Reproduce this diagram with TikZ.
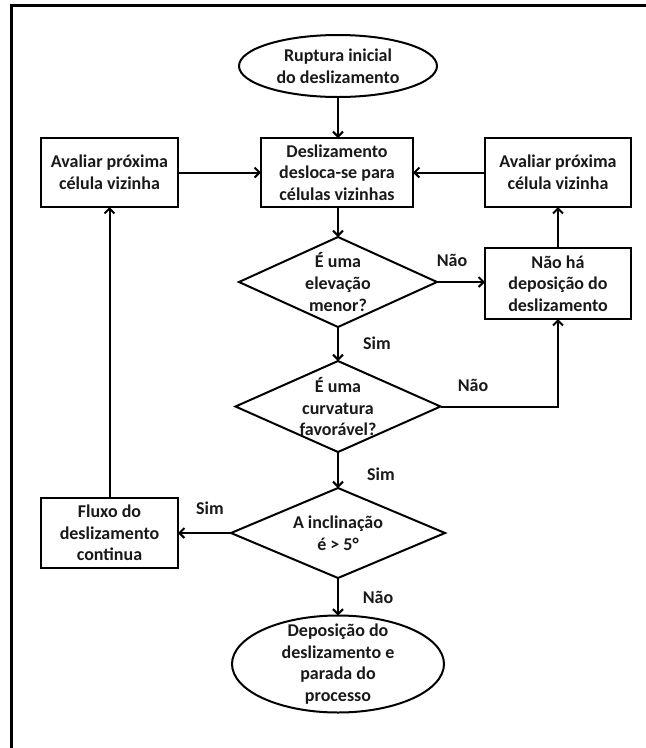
\documentclass[tikz,border=0pt]{standalone}
\usepackage{fontspec}
\setmainfont{Carlito}
\usetikzlibrary{shapes.geometric,arrows.meta}
\begin{document}
\begin{tikzpicture}[x=1pt,y=-1pt,
  every node/.style={font=\fontsize{18}{21.6}\selectfont\bfseries, text=black!90},
  shp/.style={draw, line width=2pt, inner sep=0pt, outer sep=0pt},
  boxx/.style={shp, rectangle},
  dia/.style={shp, diamond},
  ell/.style={shp, ellipse},
  txt/.style={align=center, inner sep=0pt},
  conn/.style={line width=2pt, -{Straight Barb[length=5pt,width=10pt,line width=2pt]}},
  lab/.style={inner sep=0pt}
]
\useasboundingbox (0,0) rectangle (646,748);
\draw[line width=3pt] (11.5,748) -- (11.5,5.5) -- (646,5.5);

\node[ell, minimum width=198pt, minimum height=62pt,
  label={[txt]center:{Ruptura inicial\\do deslizamento}}] (start) at (338,66) {};
\node[boxx, minimum width=152pt, minimum height=69pt,
  label={[txt]center:{Deslizamento\\desloca-se para\\células vizinhas}}] (main) at (337,172.5) {};
\node[boxx, minimum width=137pt, minimum height=69pt,
  label={[txt]center:{Avaliar próxima\\célula vizinha}}] (evalL) at (109.5,172.5) {};
\node[boxx, minimum width=146pt, minimum height=69pt,
  label={[txt]center:{Avaliar próxima\\célula vizinha}}] (evalR) at (558,172.5) {};
\node[boxx, minimum width=146pt, minimum height=71pt,
  label={[txt]center:{Não há\\deposição do\\deslizamento}}] (nodep) at (558,283.5) {};
\node[dia, minimum width=198pt, minimum height=90pt,
  label={[txt]center:{É uma\\elevação\\menor?}}] (d1) at (338,282) {};
\node[dia, minimum width=205pt, minimum height=91pt,
  label={[txt]center:{É uma\\curvatura\\favorável?}}] (d2) at (338,406.5) {};
\node[dia, minimum width=214pt, minimum height=90pt,
  label={[txt]center:{A inclinação\\é > 5°}}] (d3) at (338,533) {};
\node[boxx, minimum width=137pt, minimum height=70pt,
  label={[txt]center:{Fluxo do\\deslizamento\\continua}}] (flow) at (109.5,533) {};
\node[ell, minimum width=212pt, minimum height=97pt,
  label={[txt]center:{Deposição do\\deslizamento e\\parada do\\processo}}] (stop) at (338,664) {};

\node[lab] (l1) at (452,260) {Não};
\node[lab] (l2) at (473,385) {Não};
\node[lab] (l3) at (377,343) {Sim};
\node[lab] (l4) at (381,474) {Sim};
\node[lab] (l5) at (210,508) {Sim};
\node[lab] (l6) at (378,597) {Não};

\draw[conn] (start.south) -- (start.south |- main.north);
\draw[conn] (d1.north |- main.south) -- (d1.north);
\draw[conn] (d1.south) -- (d2.north);
\draw[conn] (d2.south) -- (d3.north);
\draw[conn] (d3.south) -- (stop.north);
\draw[conn] (d1.east) -- (d1.east -| nodep.west);
\draw[conn] (d2.east) -| (nodep.south);
\draw[conn] (nodep.north) -- (evalR.south);
\draw[conn] (evalR.west) -- (main.east);
\draw[conn] (evalL.east) -- (main.west);
\draw[conn] (d3.west) -- (flow.east);
\draw[conn] (flow.north) -- (evalL.south);
\end{tikzpicture}
\end{document}
